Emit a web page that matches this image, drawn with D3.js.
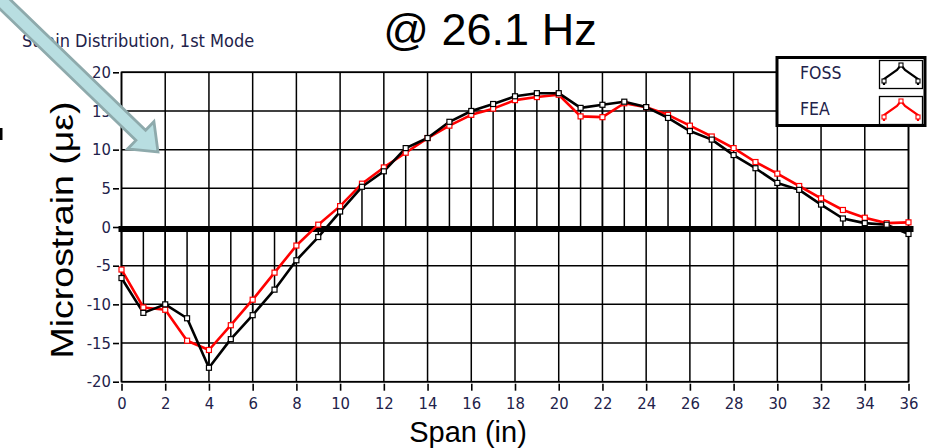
<!DOCTYPE html>
<html>
<head>
<meta charset="utf-8">
<script src="https://cdn.jsdelivr.net/npm/d3@7"></script>
<style>
  html, body { margin: 0; padding: 0; background: #fff; }
  svg { display: block; }
</style>
</head>
<body>
<svg id="chart" width="939" height="448"></svg>
<script>
// Span positions along the beam (in)
const span = [0,1,2,3,4,5,6,7,8,9,10,11,12,13,14,15,16,17,18,19,20,21,22,23,24,25,26,27,28,29,30,31,32,33,34,35,36];
// Measured strain from fiber-optic sensing (FOSS), microstrain
const foss = [-6.6,-11.1,-10.0,-11.8,-18.2,-14.5,-11.4,-8.1,-4.3,-1.3,2.0,5.2,7.2,10.2,11.5,13.6,15.0,15.9,16.9,17.3,17.3,15.4,15.8,16.2,15.5,14.1,12.4,11.3,9.3,7.6,5.7,4.8,2.9,1.1,0.5,0.3,-0.9];
// Finite element prediction (FEA), microstrain
const fea = [-5.5,-10.4,-10.7,-14.7,-15.9,-12.7,-9.4,-5.9,-2.4,0.3,2.7,5.6,7.7,9.6,11.5,13.1,14.5,15.3,16.4,16.8,17.1,14.3,14.2,16.0,15.5,14.5,13.1,11.7,10.2,8.4,6.9,5.3,3.7,2.2,1.2,0.5,0.6];
const xTicks = [0,2,4,6,8,10,12,14,16,18,20,22,24,26,28,30,32,34,36];
const yTicks = [-20,-15,-10,-5,0,5,10,15,20];
const seriesNames = ["FOSS", "FEA"];
const seriesColors = ["#000000", "#ff0000"];

const svg = d3.select("#chart");
const uiFont = "'DejaVu Sans Condensed', 'DejaVu Sans', sans-serif";
const textColor = "#22224a";
const sansFont = "'Liberation Sans', Arial, sans-serif";

const x = d3.scaleLinear().domain([0, 36]).range([121.5, 908.5]);
const y = d3.scaleLinear().domain([-20, 20]).range([381.7, 72.3]);

// Plot area grid
const plot = svg.append("g");
plot.append("rect")
  .attr("x", x(0)).attr("y", y(20))
  .attr("width", x(36) - x(0)).attr("height", y(-20) - y(20))
  .attr("fill", "#fff");

plot.selectAll("line.vgrid").data(xTicks).join("line")
  .attr("class", "vgrid")
  .attr("x1", d => x(d)).attr("x2", d => x(d))
  .attr("y1", y(20)).attr("y2", y(-20))
  .attr("stroke", "#000").attr("stroke-width", 1.5);

plot.selectAll("line.hgrid").data(yTicks).join("line")
  .attr("class", "hgrid")
  .attr("x1", x(0)).attr("x2", x(36))
  .attr("y1", d => y(d)).attr("y2", d => y(d))
  .attr("stroke", "#000").attr("stroke-width", 1.5);

// Drop lines from the baseline to each FOSS sample
plot.selectAll("line.drop").data(span).join("line")
  .attr("class", "drop")
  .attr("x1", d => x(d)).attr("x2", d => x(d))
  .attr("y1", y(0)).attr("y2", (d, i) => y(foss[i]))
  .attr("stroke", "#000").attr("stroke-width", 1.5);

// Heavy zero baseline
plot.append("rect")
  .attr("x", x(0) - 3).attr("y", y(0) - 1)
  .attr("width", x(36) - x(0) + 8).attr("height", 6)
  .attr("fill", "#000");

// Frame
plot.append("rect")
  .attr("x", x(0)).attr("y", y(20))
  .attr("width", x(36) - x(0)).attr("height", y(-20) - y(20))
  .attr("fill", "none").attr("stroke", "#000").attr("stroke-width", 1.6);

// Series lines and markers (FEA underneath FOSS)
const line = d3.line().x((d, i) => x(span[i])).y(d => y(d));
const layers = [[fea, seriesColors[1]], [foss, seriesColors[0]]];
layers.forEach(([vals, col]) => {
  plot.append("path").datum(vals)
    .attr("d", line)
    .attr("fill", "none")
    .attr("stroke", col)
    .attr("stroke-width", 2.6)
    .attr("stroke-linejoin", "round");
});
layers.forEach(([vals, col]) => {
  plot.append("g").selectAll("rect").data(vals).join("rect")
    .attr("x", (d, i) => x(span[i]) - 2.5)
    .attr("y", d => y(d) - 2.5)
    .attr("width", 5).attr("height", 5)
    .attr("fill", "#fff")
    .attr("stroke", col).attr("stroke-width", 1.2);
});

// Axes (plain hyphen for negative numbers)
const fmt = d => String(d);
const yAxis = svg.append("g")
  .attr("transform", `translate(${x(0) - 2.5},0)`)
  .call(d3.axisLeft(y).tickValues(yTicks).tickFormat(fmt).tickSize(6).tickPadding(2));
const xAxis = svg.append("g")
  .attr("transform", `translate(0,${y(-20) + 2})`)
  .call(d3.axisBottom(x).tickValues(xTicks).tickFormat(fmt).tickSize(7).tickPadding(7));
[yAxis, xAxis].forEach(ax => {
  ax.select(".domain").remove();
  ax.selectAll(".tick line").attr("stroke", "#000").attr("stroke-width", 1.6);
  ax.selectAll(".tick text")
    .attr("fill", textColor)
    .style("font-family", uiFont)
    .style("font-size", "16.5px");
});

// Legend
const legend = svg.append("g");
legend.append("rect")
  .attr("x", 777).attr("y", 57.5).attr("width", 148).attr("height", 68)
  .attr("fill", "#fff").attr("stroke", "#000").attr("stroke-width", 3);
seriesNames.forEach((name, i) => {
  const top = 60 + i * 36;
  legend.append("text")
    .attr("x", 800).attr("y", top + 19)
    .attr("fill", textColor)
    .style("font-family", uiFont).style("font-size", "17.5px")
    .text(name);
  legend.append("rect")
    .attr("x", 879.5).attr("y", top + 0.5).attr("width", 43).attr("height", 28)
    .attr("fill", "#fff").attr("stroke", "#000").attr("stroke-width", 1.3);
  const pts = [[4, 25], [4, 19], [17, 10], [21, 5], [25, 10], [38, 19], [38, 25]];
  const g = legend.append("g").attr("transform", `translate(880,${top})`);
  g.append("path")
    .attr("d", d3.line()(pts))
    .attr("fill", "none").attr("stroke", seriesColors[i]).attr("stroke-width", 2.2);
  [[4, 21], [21, 5], [38, 21]].forEach(p => {
    g.append("rect").attr("x", p[0] - 2).attr("y", p[1] - 2)
      .attr("width", 4).attr("height", 4)
      .attr("fill", "#fff").attr("stroke", seriesColors[i]).attr("stroke-width", 1.1);
  });
});

// Titles and axis labels
svg.append("text")
  .attr("x", 22).attr("y", 47)
  .attr("fill", textColor)
  .style("font-family", uiFont).style("font-size", "18px")
  .text("Strain Distribution, 1st Mode");

svg.append("text")
  .attr("x", 490).attr("y", 45)
  .attr("text-anchor", "middle")
  .style("font-family", sansFont).style("font-size", "45px")
  .text("@ 26.1 Hz");

svg.append("text")
  .attr("text-anchor", "middle")
  .attr("transform", "translate(73,230) rotate(-90) scale(1,0.84)")
  .style("font-family", sansFont).style("font-size", "37.5px")
  .text("Microstrain (με)");

svg.append("text")
  .attr("x", 468).attr("y", 442)
  .attr("text-anchor", "middle")
  .style("font-family", sansFont).style("font-size", "29px")
  .text("Span (in)");

// Small mark at the left edge
svg.append("rect").attr("x", 0).attr("y", 128).attr("width", 2.5).attr("height", 12).attr("fill", "#000");

// Callout arrow pointing into the plot
const arrow = svg.append("g")
  .attr("transform", "translate(158,152) rotate(44)");
arrow.append("path")
  .attr("d", "M-260,-7 L-24,-7 L-24,-19 L0,0 L-24,19 L-24,7 L-260,7 Z")
  .attr("fill", "#b8dee1")
  .attr("stroke", "#8eaaac")
  .attr("stroke-width", 2.8)
  .attr("stroke-linejoin", "miter");
</script>
</body>
</html>
